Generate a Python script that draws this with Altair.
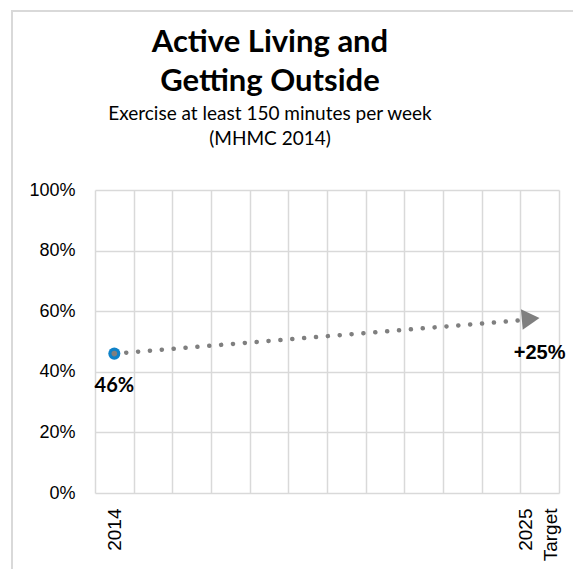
import altair as alt
import pandas as pd

years = ["2014", "2015", "2016", "2017", "2018", "2019",
         "2020", "2021", "2022", "2023", "2024", "2025"]
trend_years = ["2014", "2025"]
trend_values = [0.46, 0.575]
point_labels = ["46%", "+25%"]
y_ticks = [0, 0.2, 0.4, 0.6, 0.8, 1.0]
title_lines = ["Active Living and", "Getting Outside"]
subtitle_lines = ["Exercise at least 150 minutes per week", "(MHMC 2014)"]

df = pd.DataFrame({"year": trend_years, "value": trend_values, "label": point_labels})

GRID = "#d9d9d9"
GRAY = "#7f7f7f"
BLUE = "#0f82c8"

x_enc = alt.X(
    "year:N",
    scale=alt.Scale(domain=years, paddingInner=0, paddingOuter=0),
    axis=alt.Axis(
        title=None,
        labelExpr="datum.value == '2014' ? '2014' : (datum.value == '2025' ? ['2025', 'Target'] : '')",
        labelAngle=270,
        labelAlign="right",
        labelBaseline="middle",
        labelPadding=15,
        labelOffset={"condition": {"test": "datum.value == '2025'", "value": -14}, "value": 0},
        labelFont="Liberation Sans",
        labelFontSize=19,
        labelLineHeight=25,
        labelColor="black",
        labelOverlap=False,
        ticks=False,
        domain=False,
        grid=True,
        gridColor=GRID,
        gridWidth=1.5,
        tickBand="extent",
    ),
)
y_enc = alt.Y(
    "value:Q",
    scale=alt.Scale(domain=[0, 1]),
    axis=alt.Axis(
        title=None,
        values=y_ticks,
        format=".0%",
        labelFont="Liberation Sans",
        labelFontSize=18,
        labelColor="black",
        labelPadding=20,
        ticks=False,
        domain=False,
        gridColor=GRID,
        gridWidth=1.5,
    ),
)

base = alt.Chart(df).encode(x=x_enc, y=y_enc)

border = alt.Chart(pd.DataFrame({"a": [0]})).mark_rect(
    fillOpacity=0, stroke=GRID, strokeWidth=2
).encode(
    x=alt.value(-83), x2=alt.value(800), y=alt.value(-179), y2=alt.value(800)
)

line = base.mark_line(color=GRAY, strokeWidth=4.5, strokeDash=[0.1, 11.8], strokeCap="round")

arrow = base.transform_filter("datum.year == '2025'").mark_point(
    shape="triangle-right", size=420, filled=True, color=GRAY, opacity=1, xOffset=-9, angle=355
)

marker = base.transform_filter("datum.year == '2014'").mark_point(
    shape="circle", size=145, filled=True, color=BLUE, opacity=1
)
marker_dot = base.transform_filter("datum.year == '2014'").mark_point(
    shape="circle", size=32, filled=True, color=GRAY, opacity=1
)

label_start = base.transform_filter("datum.year == '2014'").mark_text(
    font="Lato", fontSize=20, fontWeight="bold", color="black", dy=32
).encode(text="label:N")

label_end = base.transform_filter("datum.year == '2025'").mark_text(
    font="Liberation Sans", fontSize=20, fontWeight="bold", color="black", dy=34
).encode(text="label:N")

chart = alt.layer(
    border, line, arrow, marker, marker_dot, label_start, label_end
).properties(
    width=464,
    height=303,
    padding={"left": 87, "top": 182, "right": 14, "bottom": 76},
    autosize=alt.AutoSizeParams(type="none"),
    background="white",
    title=alt.TitleParams(
        text=title_lines,
        subtitle=subtitle_lines,
        font="Lato",
        fontSize=31,
        fontWeight="bold",
        lineHeight=39,
        color="black",
        subtitleFont="Lato",
        subtitleFontSize=19,
        subtitleLineHeight=25,
        subtitleColor="black",
        subtitlePadding=7,
        anchor="middle",
        frame="group",
        dx=-57,
        offset=-140,
    ),
).configure_view(strokeWidth=0)

chart.save("out.html", embed_options={"renderer": "svg", "actions": False})
